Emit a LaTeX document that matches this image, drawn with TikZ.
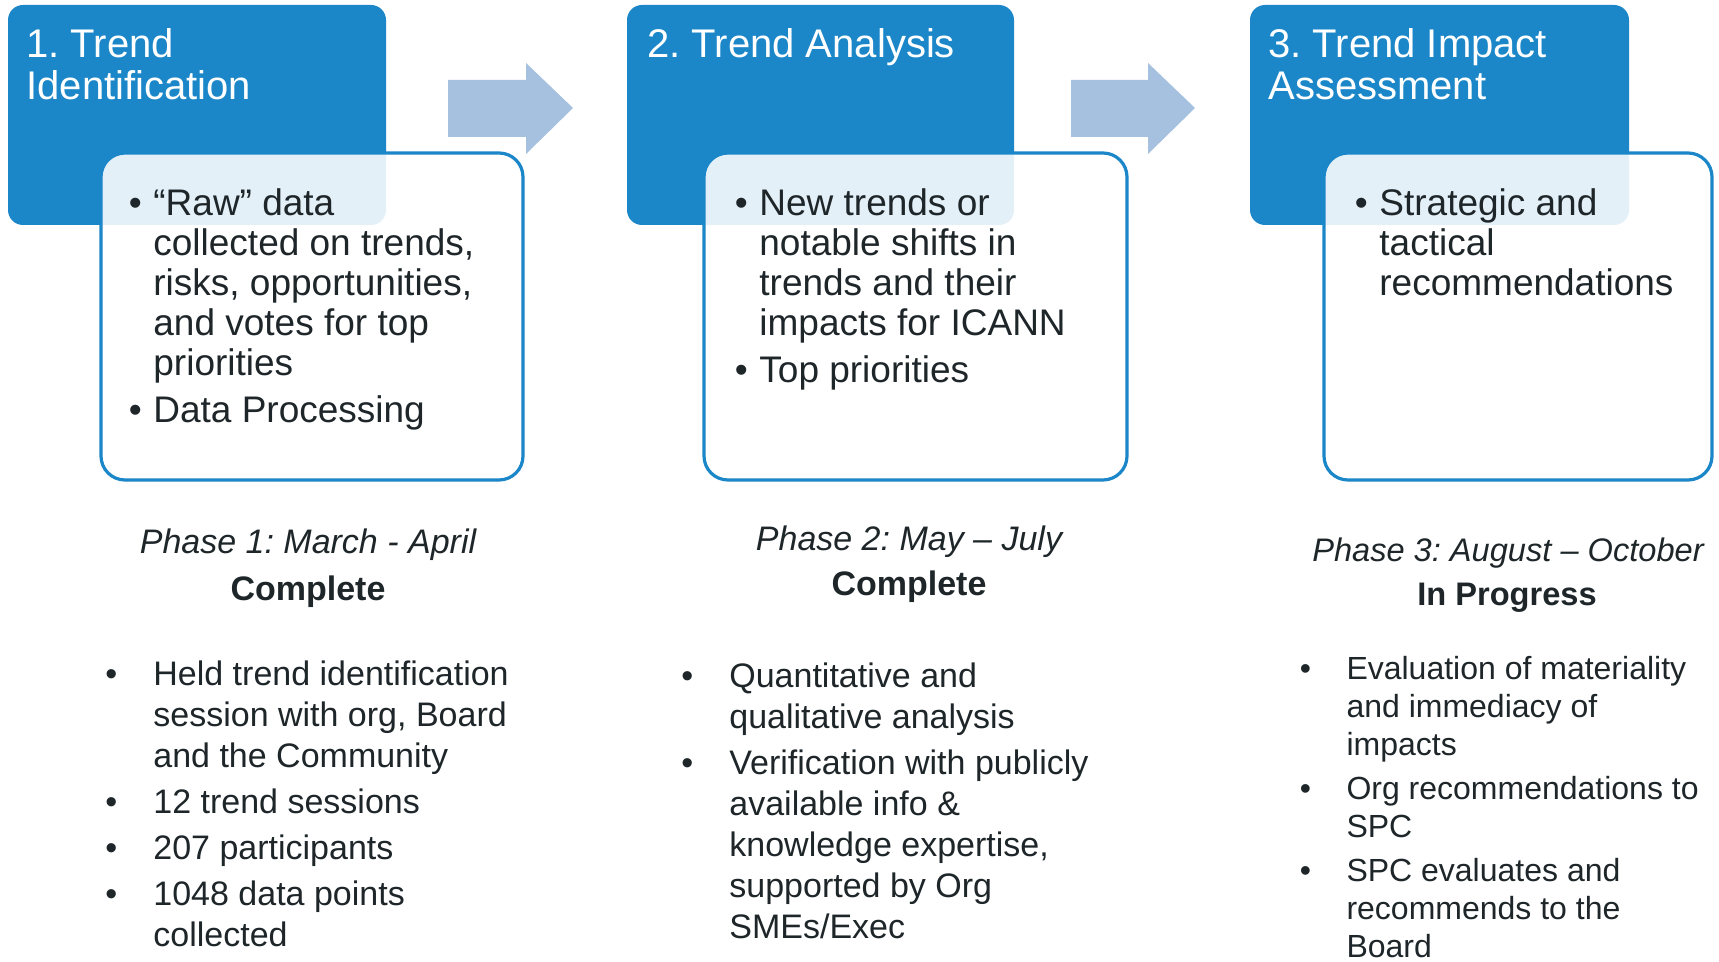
\documentclass[tikz,border=0pt]{standalone}
\usepackage{fontspec}
\setmainfont{Liberation Sans}
\frenchspacing
\definecolor{mainblue}{HTML}{1B87C9}
\definecolor{arrowblue}{HTML}{A6C1E0}
\definecolor{txt}{HTML}{1E2629}
\newcommand\mylines[1]{\begin{tabular}[t]{@{}l@{}}#1\end{tabular}}
\newcommand\mylist[1]{\begin{tabular}[t]{@{}l@{}l@{}}#1\end{tabular}}
\newcommand\bul[1]{\makebox[#1][l]{•}}
\begin{document}
\begin{tikzpicture}[x=0.5pt,y=-0.5pt,
  headbox/.style={fill=mainblue, rounded corners=7.5pt, inner sep=0pt, outer sep=0pt, anchor=north west, minimum height=110pt},
  bodybox/.style={draw=mainblue, line width=1.6pt, fill=white, fill opacity=0.88, rounded corners=12pt, inner sep=0pt, outer sep=0pt, anchor=north west, minimum height=163.5pt},
  blockarrow/.style={fill=arrowblue},
  titletext/.style={text=white, font=\fontsize{20}{21}\selectfont, inner sep=0pt, anchor=base west},
  boxtext/.style={text=txt, font=\fontsize{18.5}{20}\selectfont, inner sep=0pt, anchor=base west},
  phasetext/.style={text=txt, font=\fontsize{17}{20}\selectfont\itshape, inner sep=0pt, anchor=base},
  statustext/.style={text=txt, font=\fontsize{17}{20}\selectfont\bfseries, inner sep=0pt, anchor=base},
  phasetextsmall/.style={text=txt, font=\fontsize{16.3}{19}\selectfont\itshape, inner sep=0pt, anchor=base},
  statustextsmall/.style={text=txt, font=\fontsize{16.3}{19}\selectfont\bfseries, inner sep=0pt, anchor=base},
  listtext/.style={text=txt, font=\fontsize{17}{20.5}\selectfont, inner sep=0pt, anchor=base west},
  listtextsmall/.style={text=txt, font=\fontsize{16}{19}\selectfont, inner sep=0pt, anchor=base west}
]
\useasboundingbox (0,0) rectangle (1719,962);
\fill[white] (0,0) rectangle (1719,962);

% head boxes
\node[headbox, minimum width=189pt] (h1) at (8,5) {};
\node[headbox, minimum width=193.5pt] (h2) at (627,5) {};
\node[headbox, minimum width=189.5pt] (h3) at (1250,5) {};

% arrows
\fill[blockarrow] (448,80) -- (526,80) -- (526,63) -- (573,108) -- (526,154) -- (526,137) -- (448,137) -- cycle;
\fill[blockarrow] (1071,80) -- (1148,80) -- (1148,63) -- (1195,108) -- (1148,154) -- (1148,137) -- (1071,137) -- cycle;

% body boxes
\node[bodybox, minimum width=211pt] (b1) at (101,153) {};
\node[bodybox, minimum width=211.5pt] (b2) at (704,153) {};
\node[bodybox, minimum width=194pt] (b3) at (1324,153) {};

% titles
\node[titletext] (t1) at (26,58) {\mylines{1. Trend\\Identification}};
\node[titletext] (t2) at (647,58) {\mylines{2. Trend Analysis}};
\node[titletext] (t3) at (1268,58) {\mylines{3. Trend Impact\\Assessment}};

% box contents
\node[boxtext] (c1) at (128.5,216) {\mylist{\bul{12.25pt} & “Raw” data\\ & collected on trends,\\ & risks, opportunities,\\ & and votes for top\\ & priorities\\[3.5pt] \bul{12.25pt} & Data Processing}};
\node[boxtext] (c2) at (734.5,216) {\mylist{\bul{12.25pt} & New trends or\\ & notable shifts in\\ & trends and their\\ & impacts for ICANN\\[3.5pt] \bul{12.25pt} & Top priorities}};
\node[boxtext] (c3) at (1354.5,216) {\mylist{\bul{12.25pt} & Strategic and\\ & tactical\\ & recommendations}};

% phase labels
\node[phasetext] (p1) at (308,553) {Phase 1: March - April};
\node[statustext] (s1) at (308,600) {Complete};
\node[phasetext] (p2) at (909,551) {Phase 2: May – July};
\node[statustext] (s2) at (909,596) {Complete};
\node[phasetextsmall] (p3) at (1508,561) {Phase 3: August – October};
\node[statustextsmall] (s3) at (1507,605) {In Progress};

% lists
\node[listtext] (l1) at (105,685) {\mylist{\bul{24pt} & Held trend identification\\ & session with org, Board\\ & and the Community\\[2.5pt] \bul{24pt} & 12 trend sessions\\[2.5pt] \bul{24pt} & 207 participants\\[2.5pt] \bul{24pt} & 1048 data points\\ & collected}};
\node[listtext] (l2) at (681,687) {\mylist{\bul{24pt} & Quantitative and\\ & qualitative analysis\\[2.5pt] \bul{24pt} & Verification with publicly\\ & available info \&\\ & knowledge expertise,\\ & supported by Org\\ & SMEs/Exec}};
\node[listtextsmall] (l3) at (1299.5,679) {\mylist{\bul{23.3pt} & Evaluation of materiality\\ & and immediacy of\\ & impacts\\[3pt] \bul{23.3pt} & Org recommendations to\\ & SPC\\[3pt] \bul{23.3pt} & SPC evaluates and\\ & recommends to the\\ & Board}};
\end{tikzpicture}
\end{document}
